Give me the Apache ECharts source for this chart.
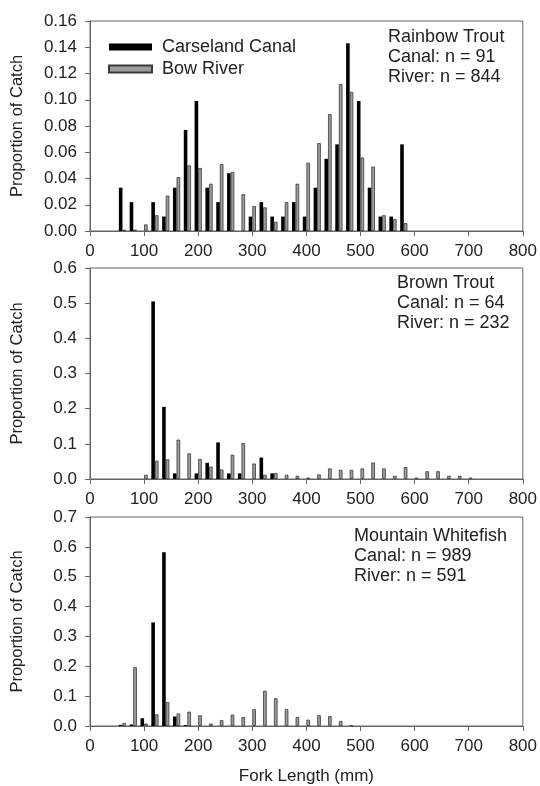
<!DOCTYPE html>
<html>
<head>
<meta charset="utf-8">
<script src="https://cdn.jsdelivr.net/npm/echarts@6/dist/echarts.min.js"></script>
<style>
  html, body { margin: 0; padding: 0; background: #fff; }
  #chart { width: 540px; height: 786px; }
</style>
</head>
<body>
<div id="chart"></div>
<script>
// length bins (mm) and proportion of catch
const rtBins = [60, 80, 100, 120, 140, 160, 180, 200, 220, 240, 260, 280, 300, 320, 340, 360, 380, 400, 420, 440, 460, 480, 500, 520, 540, 560, 580]
const rtCanal = [0.033, 0.022, 0, 0.022, 0.011, 0.033, 0.077, 0.099, 0.033, 0.022, 0.044, 0, 0.011, 0.022, 0.011, 0.011, 0.022, 0.011, 0.033, 0.055, 0.066, 0.143, 0.099, 0.033, 0.011, 0.011, 0.066]
const rtRiver = [0.001, 0.001, 0.005, 0.012, 0.027, 0.041, 0.050, 0.048, 0.036, 0.051, 0.045, 0.028, 0.019, 0.018, 0.007, 0.022, 0.036, 0.052, 0.067, 0.089, 0.112, 0.106, 0.056, 0.049, 0.012, 0.009, 0.006]

const btBins = [100, 120, 140, 160, 180, 200, 220, 240, 260, 280, 300, 320, 340, 360, 380, 400, 420, 440, 460, 480, 500, 520, 540, 560, 580, 600, 620, 640, 660, 680, 700]
const btCanal = [0, 0.505, 0.205, 0.016, 0, 0.016, 0.046, 0.104, 0.016, 0.016, 0, 0.061, 0.016, 0, 0, 0, 0, 0, 0, 0, 0, 0, 0, 0, 0, 0, 0, 0, 0, 0, 0]
const btRiver = [0.012, 0.052, 0.056, 0.112, 0.073, 0.057, 0.035, 0.027, 0.069, 0.102, 0.044, 0.012, 0.017, 0.012, 0.009, 0.004, 0.013, 0.030, 0.026, 0.026, 0.030, 0.047, 0.030, 0.009, 0.034, 0.004, 0.022, 0.022, 0.009, 0.009, 0.004]

const mwBins = [60, 80, 100, 120, 140, 160, 180, 200, 220, 240, 260, 280, 300, 320, 340, 360, 380, 400, 420, 440, 460, 480]
const mwCanal = [0.004, 0.005, 0.026, 0.347, 0.582, 0.032, 0.003, 0, 0, 0, 0, 0, 0, 0, 0, 0, 0, 0, 0, 0, 0, 0]
const mwRiver = [0.010, 0.197, 0.008, 0.039, 0.080, 0.042, 0.048, 0.036, 0.008, 0.020, 0.038, 0.030, 0.056, 0.118, 0.093, 0.056, 0.030, 0.021, 0.036, 0.033, 0.017, 0.002]

const xTicks = [0, 100, 200, 300, 400, 500, 600, 700, 800]

const font = 'Liberation Sans, Arial, Helvetica, sans-serif'
const axisColor = '#666'
const textColor = '#222'

const panels = [
    { bins: rtBins, canal: rtCanal, river: rtRiver, top: 21, height: 210, max: 0.16, step: 0.02, dec: 2,
      note: 'Rainbow Trout\nCanal: n = 91\nRiver: n = 844', noteX: 388, noteY: 27 },
    { bins: btBins, canal: btCanal, river: btRiver, top: 268, height: 211, max: 0.6, step: 0.1, dec: 1,
      note: 'Brown Trout\nCanal: n = 64\nRiver: n = 232', noteX: 397, noteY: 273 },
    { bins: mwBins, canal: mwCanal, river: mwRiver, top: 517, height: 210, max: 0.7, step: 0.1, dec: 1,
      note: 'Mountain Whitefish\nCanal: n = 989\nRiver: n = 591', noteX: 354, noteY: 526 }
]

const grid = []
const xAxis = []
const yAxis = []
const series = []
const graphic = []

panels.forEach((p, i) => {
    grid.push({
        left: 90, width: 434, top: p.top, height: p.height,
        show: true, borderColor: axisColor, borderWidth: 1, backgroundColor: 'transparent'
    })
    xAxis.push({
        type: 'value', gridIndex: i, min: 0, max: 800, interval: 100,
        axisLine: { show: true, lineStyle: { color: axisColor } },
        axisTick: { show: true, length: 5, lineStyle: { color: axisColor } },
        axisLabel: { color: textColor, fontSize: 17, fontFamily: font, margin: 12,
            formatter: v => xTicks.indexOf(v) >= 0 ? String(v) : '' },
        splitLine: { show: false },
        name: i === 2 ? 'Fork Length (mm)' : '',
        nameLocation: 'middle', nameGap: 42,
        nameTextStyle: { color: textColor, fontSize: 17, fontFamily: font }
    })
    yAxis.push({
        type: 'value', gridIndex: i, min: 0, max: p.max, interval: p.step,
        axisLine: { show: true, lineStyle: { color: axisColor } },
        axisTick: { show: true, length: 5, lineStyle: { color: axisColor } },
        axisLabel: { color: textColor, fontSize: 17, fontFamily: font, margin: 13,
            formatter: v => v.toFixed(p.dec) },
        splitLine: { show: false },
        name: 'Proportion of Catch', nameLocation: 'middle', nameGap: 64,
        nameTextStyle: { color: textColor, fontSize: 16.5, fontFamily: font }
    })
    series.push({
        name: 'Carseland Canal', type: 'bar', xAxisIndex: i, yAxisIndex: i,
        barWidth: 3.6, barGap: '0%',
        itemStyle: { color: '#000' },
        data: p.bins.map((b, k) => [b, p.canal[k]])
    })
    series.push({
        name: 'Bow River', type: 'bar', xAxisIndex: i, yAxisIndex: i,
        barWidth: 3.6, barGap: '0%',
        itemStyle: { color: '#9c9c9c', borderColor: '#3a3a3a', borderWidth: 0.8 },
        data: p.bins.map((b, k) => [b, p.river[k]])
    })
    graphic.push({
        type: 'text', left: p.noteX, top: p.noteY,
        style: { text: p.note, fill: textColor, font: '18px ' + font, lineHeight: 20 }
    })
})

const chart = echarts.init(document.getElementById('chart'), null, { renderer: 'canvas' })
chart.setOption({
    backgroundColor: '#fff',
    animation: false,
    textStyle: { fontFamily: font },
    legend: {
        orient: 'vertical', left: 103, top: 33,
        icon: 'rect', itemWidth: 43, itemHeight: 7, itemGap: 4,
        data: ['Carseland Canal', 'Bow River'],
        textStyle: { color: textColor, fontSize: 18, fontFamily: font, lineHeight: 16, padding: [0, 0, 0, 5] }
    },
    grid,
    xAxis,
    yAxis,
    series,
    graphic
})
</script>
</body>
</html>
